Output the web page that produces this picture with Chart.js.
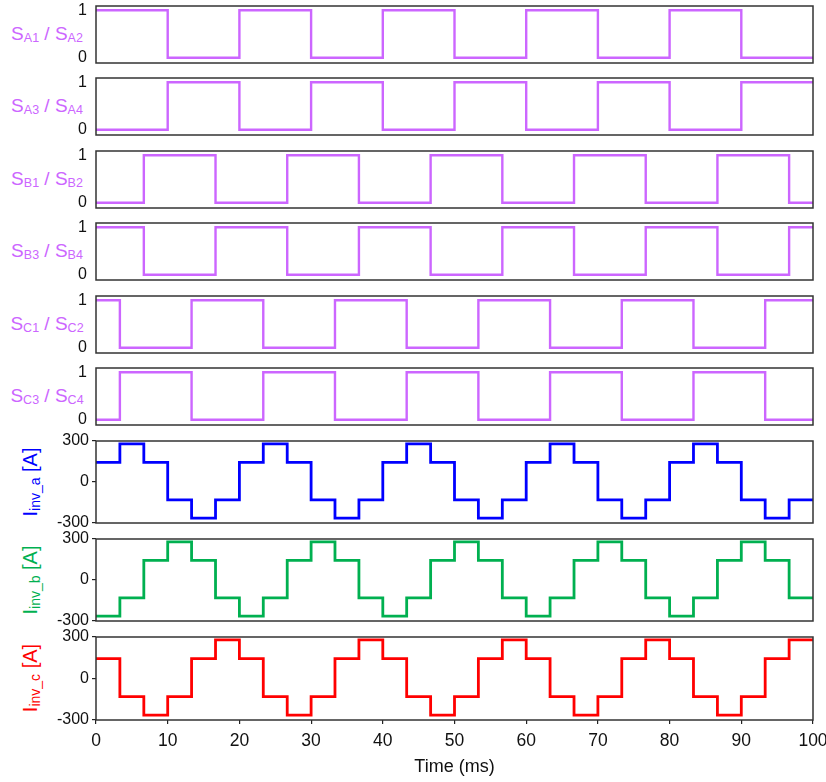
<!DOCTYPE html>
<html lang="en">
<head>
  <meta charset="UTF-8" />
  <title>Switching signals and inverter currents</title>
  <script src="https://cdn.jsdelivr.net/npm/chart.js"></script>
  <style>
    html, body { margin: 0; padding: 0; background: #fff; }
    body { width: 826px; height: 782px; position: relative; overflow: hidden; font-family: 'Liberation Sans', Arial, sans-serif; }
    canvas { position: absolute; left: 0; }
    .lab { position: absolute; white-space: nowrap; font-size: 19px; line-height: 1; transform: translate(-50%, -50%); }
    .lab sub { font-size: 12.5px; vertical-align: -2px; }
    .vert { font-size: 20px; transform: translate(-50%, -50%) rotate(-90deg); }
    .vert sub { font-size: 14px; vertical-align: -3px; }
  </style>
</head>
<body>
  <div class="lab" style="left:47px;top:34px;color:#cc66ff">S<sub>A1</sub> / S<sub>A2</sub></div>
  <div class="lab" style="left:47px;top:106px;color:#cc66ff">S<sub>A3</sub> / S<sub>A4</sub></div>
  <div class="lab" style="left:47px;top:179px;color:#cc66ff">S<sub>B1</sub> / S<sub>B2</sub></div>
  <div class="lab" style="left:47px;top:251px;color:#cc66ff">S<sub>B3</sub> / S<sub>B4</sub></div>
  <div class="lab" style="left:47px;top:324px;color:#cc66ff">S<sub>C1</sub> / S<sub>C2</sub></div>
  <div class="lab" style="left:47px;top:396px;color:#cc66ff">S<sub>C3</sub> / S<sub>C4</sub></div>
  <div class="lab vert" style="left:31px;top:482px;color:#0000ff">I<sub>inv_a</sub> [A]</div>
  <div class="lab vert" style="left:31px;top:580px;color:#00b050">I<sub>inv_b</sub> [A]</div>
  <div class="lab vert" style="left:31px;top:678px;color:#ff0000">I<sub>inv_c</sub> [A]</div>

  <script>
    // switching edges (ms) and gate states, each value holds until the next edge
    const tA = [0, 10, 20, 30, 40, 50, 60, 70, 80, 90, 100];
    const sA1 = [1, 0, 1, 0, 1, 0, 1, 0, 1, 0, 0];
    const sA3 = [0, 1, 0, 1, 0, 1, 0, 1, 0, 1, 1];

    const tB = [0, 6.67, 16.67, 26.67, 36.67, 46.67, 56.67, 66.67, 76.67, 86.67, 96.67, 100];
    const sB1 = [0, 1, 0, 1, 0, 1, 0, 1, 0, 1, 0, 0];
    const sB3 = [1, 0, 1, 0, 1, 0, 1, 0, 1, 0, 1, 1];

    const tC = [0, 3.33, 13.33, 23.33, 33.33, 43.33, 53.33, 63.33, 73.33, 83.33, 93.33, 100];
    const sC1 = [1, 0, 1, 0, 1, 0, 1, 0, 1, 0, 1, 1];
    const sC3 = [0, 1, 0, 1, 0, 1, 0, 1, 0, 1, 0, 0];

    // inverter phase currents (A), six-step levels
    const tI = [0, 3.33, 6.67, 10, 13.33, 16.67, 20, 23.33, 26.67, 30, 33.33, 36.67, 40, 43.33, 46.67,
                50, 53.33, 56.67, 60, 63.33, 66.67, 70, 73.33, 76.67, 80, 83.33, 86.67, 90, 93.33, 96.67, 100];
    const iA = [143, 279, 143, -131, -265, -131, 143, 279, 143, -131, -265, -131, 143, 279, 143, -131, -265, -131,
                143, 279, 143, -131, -265, -131, 143, 279, 143, -131, -265, -131, -131];
    const iB = [-265, -131, 143, 279, 143, -131, -265, -131, 143, 279, 143, -131, -265, -131, 143, 279, 143, -131,
                -265, -131, 143, 279, 143, -131, -265, -131, 143, 279, 143, -131, -131];
    const iC = [143, -131, -265, -131, 143, 279, 143, -131, -265, -131, 143, 279, 143, -131, -265, -131, 143, 279,
                143, -131, -265, -131, 143, 279, 143, -131, -265, -131, 143, 279, 279];

    const violet = '#cc66ff';
    const W = 826;
    const PAD = 20;
    const tickFont = { family: "'Liberation Sans', Arial, sans-serif", size: 16 };

    // box round the plot area
    const frame = {
      id: 'frame',
      afterDraw(chart) {
        const a = chart.chartArea, ctx = chart.ctx;
        ctx.save();
        ctx.strokeStyle = '#333';
        ctx.lineWidth = 1.5;
        ctx.strokeRect(a.left, a.top, a.right - a.left, a.bottom - a.top);
        ctx.restore();
      }
    };

    function pts(t, v) {
      return t.map((x, i) => ({ x: x, y: v[i] }));
    }

    function panel(top, h, t, v, color, isSwitch, isBottom) {
      const cv = document.createElement('canvas');
      const ch = isBottom ? 782 - (top - PAD) : h + 2 * PAD;
      cv.width = W;
      cv.height = ch;
      cv.style.top = (top - PAD) + 'px';
      document.body.appendChild(cv);

      new Chart(cv, {
        type: 'line',
        data: {
          datasets: [{
            data: pts(t, v),
            borderColor: color,
            borderWidth: isSwitch ? 2.4 : 2.8,
            stepped: 'before',
            pointRadius: 0,
            fill: false
          }]
        },
        plugins: [frame],
        options: {
          responsive: false,
          animation: false,
          events: [],
          layout: { padding: { top: PAD, bottom: isBottom ? 0 : PAD, left: 0, right: 13 } },
          plugins: { legend: { display: false }, tooltip: { enabled: false } },
          scales: {
            x: {
              type: 'linear',
              min: 0, max: 100,
              display: isBottom,
              border: { display: false },
              grid: { drawOnChartArea: false, tickLength: 4, color: '#222', lineWidth: 1.2 },
              ticks: { stepSize: 10, font: { family: tickFont.family, size: 17.5 }, color: '#111', padding: 7, maxRotation: 0 },
              title: { display: true, text: 'Time (ms)', font: { family: tickFont.family, size: 18 }, color: '#111', padding: { top: 0, bottom: 4 } },
              afterFit(s) {
                if (isBottom) s.height = ch - PAD - h;
                s.paddingLeft = 0;
                s.paddingRight = 0;
              }
            },
            y: {
              min: isSwitch ? -0.11 : -300,
              max: isSwitch ? 1.09 : 300,
              border: { display: false },
              grid: { drawOnChartArea: false, tickLength: 4, color: isSwitch ? 'rgba(0,0,0,0)' : '#222', lineWidth: 1.2 },
              ticks: { font: tickFont, color: '#111', padding: isSwitch ? 5 : 3 },
              afterBuildTicks(s) {
                s.ticks = isSwitch ? [{ value: 0 }, { value: 1 }] : [{ value: -300 }, { value: 0 }, { value: 300 }];
              },
              afterFit(s) { s.width = 96; }
            }
          }
        }
      });
    }

    panel(6, 57, tA, sA1, violet, true, false);
    panel(78, 57, tA, sA3, violet, true, false);
    panel(151, 57, tB, sB1, violet, true, false);
    panel(223, 57, tB, sB3, violet, true, false);
    panel(296, 57, tC, sC1, violet, true, false);
    panel(368, 57, tC, sC3, violet, true, false);
    panel(441, 82, tI, iA, '#0000ff', false, false);
    panel(539, 82, tI, iB, '#00b050', false, false);
    panel(637, 83, tI, iC, '#ff0000', false, true);
  </script>
</body>
</html>
